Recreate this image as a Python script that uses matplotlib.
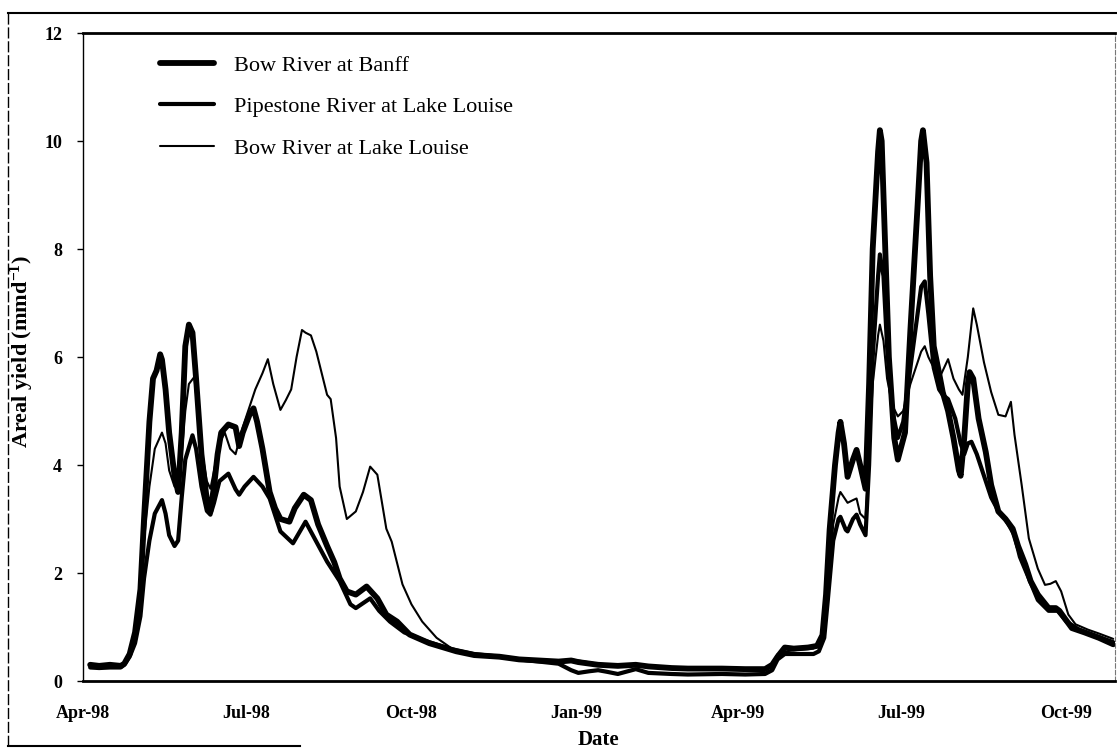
import matplotlib
matplotlib.use("Agg")
import matplotlib.pyplot as plt
from matplotlib.lines import Line2D
import pandas as pd

# ---- Bow River at Banff ----
banff_dates = [
    "1998-04-05", "1998-04-10", "1998-04-16", "1998-04-22", "1998-04-24", "1998-04-27",
    "1998-04-30", "1998-05-03", "1998-05-05", "1998-05-08", "1998-05-10", "1998-05-12",
    "1998-05-14", "1998-05-15", "1998-05-17", "1998-05-19", "1998-05-22", "1998-05-24",
    "1998-05-26", "1998-05-28", "1998-05-30", "1998-06-01", "1998-06-03", "1998-06-06",
    "1998-06-09", "1998-06-11", "1998-06-13", "1998-06-15", "1998-06-17", "1998-06-21",
    "1998-06-25", "1998-06-27", "1998-06-29", "1998-07-03", "1998-07-05", "1998-07-07",
    "1998-07-10", "1998-07-14", "1998-07-17", "1998-07-20", "1998-07-25", "1998-07-28",
    "1998-08-02", "1998-08-06", "1998-08-10", "1998-08-15", "1998-08-19", "1998-08-22",
    "1998-08-26", "1998-08-31", "1998-09-06", "1998-09-12", "1998-09-17", "1998-09-23",
    "1998-09-30", "1998-10-11", "1998-10-26", "1998-11-05", "1998-11-19", "1998-11-30",
    "1998-12-11", "1998-12-22", "1998-12-29", "1999-01-02", "1999-01-13", "1999-01-24",
    "1999-02-03", "1999-02-10", "1999-02-23", "1999-03-04", "1999-03-23", "1999-04-05",
    "1999-04-16", "1999-04-20", "1999-04-23", "1999-04-27", "1999-05-02", "1999-05-10",
    "1999-05-15", "1999-05-18", "1999-05-20", "1999-05-22", "1999-05-25", "1999-05-27",
    "1999-05-28", "1999-05-30", "1999-06-01", "1999-06-04", "1999-06-06", "1999-06-08",
    "1999-06-11", "1999-06-13", "1999-06-15", "1999-06-18", "1999-06-19", "1999-06-20",
    "1999-06-22", "1999-06-24", "1999-06-27", "1999-06-29", "1999-07-03", "1999-07-06",
    "1999-07-10", "1999-07-12", "1999-07-13", "1999-07-15", "1999-07-17", "1999-07-19",
    "1999-07-22", "1999-07-24", "1999-07-27", "1999-07-30", "1999-08-02", "1999-08-03",
    "1999-08-05", "1999-08-07", "1999-08-08", "1999-08-10", "1999-08-13", "1999-08-17",
    "1999-08-20", "1999-08-24", "1999-08-28", "1999-09-01", "1999-09-04", "1999-09-08",
    "1999-09-11", "1999-09-15", "1999-09-21", "1999-09-25", "1999-09-27", "1999-09-30",
    "1999-10-04", "1999-10-11", "1999-10-19", "1999-10-27",
]
banff_yield = [
    0.30, 0.28, 0.30, 0.28, 0.32, 0.50,
    0.90, 1.70, 3.00, 4.80, 5.60, 5.75,
    6.05, 5.95, 5.40, 4.60, 3.80, 3.50,
    4.60, 6.20, 6.60, 6.45, 5.60, 4.20,
    3.35, 3.15, 3.60, 4.20, 4.60, 4.75,
    4.70, 4.35, 4.60, 4.95, 5.05, 4.80,
    4.30, 3.50, 3.20, 3.00, 2.95, 3.20,
    3.45, 3.35, 2.90, 2.50, 2.20, 1.90,
    1.66, 1.60, 1.75, 1.53, 1.23, 1.10,
    0.86, 0.70, 0.55, 0.48, 0.45, 0.40,
    0.38, 0.36, 0.38, 0.35, 0.30, 0.28,
    0.30, 0.27, 0.24, 0.23, 0.23, 0.22,
    0.22, 0.30, 0.45, 0.62, 0.60, 0.62,
    0.65, 0.85, 1.60, 2.80, 4.00, 4.60,
    4.80, 4.40, 3.78, 4.10, 4.28, 4.00,
    3.56, 5.50, 8.00, 9.80, 10.20, 10.00,
    8.00, 6.00, 4.50, 4.10, 4.60, 6.50,
    8.80, 10.00, 10.20, 9.60, 7.50, 6.20,
    5.70, 5.35, 5.00, 4.50, 3.90, 3.80,
    4.50, 5.50, 5.72, 5.60, 4.86, 4.24,
    3.63, 3.14, 3.00, 2.82, 2.50, 2.16,
    1.85, 1.60, 1.35, 1.35, 1.30, 1.16,
    0.98, 0.90, 0.80, 0.68,
]

# ---- Pipestone River at Lake Louise ----
pipestone_dates = [
    "1998-04-05", "1998-04-10", "1998-04-16", "1998-04-22", "1998-04-24", "1998-04-27",
    "1998-04-30", "1998-05-03", "1998-05-05", "1998-05-08", "1998-05-11", "1998-05-15",
    "1998-05-17", "1998-05-19", "1998-05-22", "1998-05-24", "1998-05-26", "1998-05-28",
    "1998-06-01", "1998-06-03", "1998-06-06", "1998-06-09", "1998-06-11", "1998-06-13",
    "1998-06-16", "1998-06-21", "1998-06-25", "1998-06-27", "1998-06-30", "1998-07-05",
    "1998-07-10", "1998-07-14", "1998-07-20", "1998-07-27", "1998-08-03", "1998-08-09",
    "1998-08-15", "1998-08-22", "1998-08-28", "1998-08-31", "1998-09-08", "1998-09-13",
    "1998-09-19", "1998-09-27", "1998-10-08", "1998-10-22", "1998-11-05", "1998-11-19",
    "1998-11-30", "1998-12-11", "1998-12-22", "1998-12-29", "1999-01-02", "1999-01-08",
    "1999-01-13", "1999-01-18", "1999-01-24", "1999-02-03", "1999-02-10", "1999-02-23",
    "1999-03-04", "1999-03-23", "1999-04-05", "1999-04-16", "1999-04-20", "1999-04-23",
    "1999-04-27", "1999-05-05", "1999-05-13", "1999-05-16", "1999-05-19", "1999-05-21",
    "1999-05-24", "1999-05-27", "1999-05-28", "1999-05-31", "1999-06-01", "1999-06-04",
    "1999-06-06", "1999-06-08", "1999-06-11", "1999-06-13", "1999-06-15", "1999-06-18",
    "1999-06-19", "1999-06-21", "1999-06-23", "1999-06-26", "1999-06-29", "1999-07-02",
    "1999-07-06", "1999-07-10", "1999-07-12", "1999-07-14", "1999-07-16", "1999-07-19",
    "1999-07-22", "1999-07-24", "1999-07-27", "1999-07-31", "1999-08-03", "1999-08-05",
    "1999-08-07", "1999-08-09", "1999-08-12", "1999-08-16", "1999-08-20", "1999-08-24",
    "1999-08-28", "1999-09-02", "1999-09-05", "1999-09-10", "1999-09-15", "1999-09-21",
    "1999-09-26", "1999-10-01", "1999-10-08", "1999-10-16", "1999-10-27",
]
pipestone_yield = [
    0.25, 0.24, 0.25, 0.25, 0.30, 0.45,
    0.70, 1.20, 1.90, 2.60, 3.10, 3.35,
    3.10, 2.70, 2.50, 2.60, 3.40, 4.10,
    4.55, 4.30, 3.60, 3.15, 3.08, 3.30,
    3.70, 3.84, 3.55, 3.45, 3.60, 3.78,
    3.60, 3.38, 2.77, 2.55, 2.95, 2.58,
    2.21, 1.85, 1.42, 1.35, 1.53, 1.30,
    1.10, 0.90, 0.75, 0.60, 0.50, 0.45,
    0.40, 0.36, 0.32, 0.20, 0.15, 0.18,
    0.20, 0.17, 0.13, 0.22, 0.15, 0.13,
    0.12, 0.13, 0.12, 0.13, 0.20, 0.40,
    0.50, 0.50, 0.50, 0.55, 0.80, 1.50,
    2.60, 3.00, 3.04, 2.80, 2.77, 3.00,
    3.08, 2.90, 2.70, 4.00, 6.00, 7.50,
    7.90, 7.50, 6.20, 5.00, 4.50, 4.80,
    5.80, 6.80, 7.30, 7.40, 6.80, 5.80,
    5.40, 5.30, 5.22, 4.86, 4.40, 4.20,
    4.40, 4.43, 4.20, 3.80, 3.40, 3.15,
    3.00, 2.70, 2.30, 1.90, 1.50, 1.30,
    1.30, 1.10, 0.95, 0.85, 0.72,
]

# ---- Bow River at Lake Louise ----
louise_dates = [
    "1998-04-05", "1998-04-10", "1998-04-16", "1998-04-22", "1998-04-24", "1998-04-27",
    "1998-04-30", "1998-05-03", "1998-05-05", "1998-05-08", "1998-05-11", "1998-05-15",
    "1998-05-17", "1998-05-19", "1998-05-22", "1998-05-24", "1998-05-26", "1998-05-28",
    "1998-05-30", "1998-06-02", "1998-06-04", "1998-06-06", "1998-06-09", "1998-06-11",
    "1998-06-13", "1998-06-16", "1998-06-19", "1998-06-22", "1998-06-25", "1998-06-29",
    "1998-07-03", "1998-07-06", "1998-07-10", "1998-07-13", "1998-07-16", "1998-07-20",
    "1998-07-23", "1998-07-26", "1998-07-29", "1998-08-01", "1998-08-03", "1998-08-06",
    "1998-08-09", "1998-08-15", "1998-08-17", "1998-08-20", "1998-08-22", "1998-08-26",
    "1998-08-31", "1998-09-04", "1998-09-08", "1998-09-12", "1998-09-17", "1998-09-20",
    "1998-09-26", "1998-10-01", "1998-10-07", "1998-10-15", "1998-10-24", "1998-11-02",
    "1998-11-19", "1998-11-30", "1998-12-11", "1998-12-22", "1998-12-29", "1999-01-02",
    "1999-01-13", "1999-01-24", "1999-02-03", "1999-02-10", "1999-02-23", "1999-03-04",
    "1999-03-23", "1999-04-05", "1999-04-16", "1999-04-20", "1999-04-23", "1999-04-28",
    "1999-05-05", "1999-05-13", "1999-05-18", "1999-05-21", "1999-05-24", "1999-05-27",
    "1999-05-28", "1999-05-31", "1999-06-01", "1999-06-04", "1999-06-06", "1999-06-08",
    "1999-06-11", "1999-06-13", "1999-06-15", "1999-06-18", "1999-06-19", "1999-06-21",
    "1999-06-23", "1999-06-26", "1999-06-29", "1999-07-02", "1999-07-06", "1999-07-10",
    "1999-07-12", "1999-07-14", "1999-07-16", "1999-07-19", "1999-07-22", "1999-07-27",
    "1999-07-30", "1999-08-02", "1999-08-04", "1999-08-07", "1999-08-10", "1999-08-12",
    "1999-08-16", "1999-08-20", "1999-08-24", "1999-08-28", "1999-08-31", "1999-09-02",
    "1999-09-06", "1999-09-10", "1999-09-15", "1999-09-19", "1999-09-22", "1999-09-25",
    "1999-09-28", "1999-10-02", "1999-10-06", "1999-10-13", "1999-10-19", "1999-10-27",
]
louise_yield = [
    0.28, 0.26, 0.27, 0.27, 0.30, 0.45,
    0.80, 1.50, 2.60, 3.60, 4.30, 4.60,
    4.40, 3.90, 3.60, 3.56, 4.20, 5.00,
    5.50, 5.63, 5.00, 4.30, 3.70, 3.56,
    3.90, 4.40, 4.60, 4.30, 4.20, 4.70,
    5.10, 5.40, 5.70, 5.96, 5.50, 5.02,
    5.20, 5.40, 6.00, 6.50, 6.45, 6.40,
    6.10, 5.30, 5.22, 4.50, 3.60, 3.00,
    3.14, 3.50, 3.97, 3.82, 2.82, 2.58,
    1.79, 1.42, 1.10, 0.80, 0.59, 0.50,
    0.45, 0.40, 0.37, 0.36, 0.40, 0.38,
    0.32, 0.30, 0.31, 0.28, 0.25, 0.25,
    0.24, 0.23, 0.22, 0.32, 0.50, 0.55,
    0.58, 0.60, 0.75, 1.60, 2.90, 3.40,
    3.50, 3.35, 3.30, 3.35, 3.38, 3.10,
    3.00, 4.20, 5.50, 6.40, 6.60, 6.30,
    5.60, 5.10, 4.90, 5.00, 5.50, 5.90,
    6.10, 6.20, 6.00, 5.80, 5.60, 5.96,
    5.60, 5.40, 5.30, 6.00, 6.90, 6.60,
    5.90, 5.35, 4.93, 4.90, 5.17, 4.56,
    3.63, 2.64, 2.08, 1.78, 1.80, 1.85,
    1.66, 1.23, 1.05, 0.95, 0.88, 0.78,
]

series_names = ["Bow River at Banff", "Pipestone River at Lake Louise",
                "Bow River at Lake Louise"]
tick_dates = ["1998-04-01", "1998-07-01", "1998-10-01", "1999-01-01",
              "1999-04-01", "1999-07-01", "1999-10-01"]
tick_labels = ["Apr-98", "Jul-98", "Oct-98", "Jan-99", "Apr-99", "Jul-99", "Oct-99"]
y_ticks = [0, 2, 4, 6, 8, 10, 12]

plt.rcParams["font.family"] = ["Liberation Serif", "DejaVu Serif"]
plt.rcParams["mathtext.fontset"] = "custom"
plt.rcParams["mathtext.rm"] = "Liberation Serif:bold"
plt.rcParams["mathtext.default"] = "rm"

W, H = 1117, 753
fig = plt.figure(figsize=(W / 100, H / 100), dpi=100)
ax = fig.add_axes([83 / W, 1 - 681 / H, (1115 - 83) / W, (681 - 33) / H])

series = [
    (banff_dates, banff_yield, 4.2),
    (pipestone_dates, pipestone_yield, 3.0),
    (louise_dates, louise_yield, 1.5),
]
for (d, v, lw), name in zip(series, series_names):
    ax.plot(pd.to_datetime(d), v, color="black", lw=lw, label=name,
            solid_joinstyle="round", solid_capstyle="round")

ax.set_xlim(pd.Timestamp("1998-04-01"), pd.Timestamp("1999-10-28"))
ax.set_ylim(0, 12)
ax.set_yticks(y_ticks)
ax.set_yticklabels([str(t) for t in y_ticks], fontsize=13, fontweight="bold")
ax.set_xticks(pd.to_datetime(tick_dates))
ax.set_xticklabels(tick_labels, fontsize=13, fontweight="bold")
ax.tick_params(axis="y", direction="out", length=4, width=1, pad=11)
ax.tick_params(axis="x", length=0, pad=17)

ax.spines["left"].set_linewidth(1.0)
ax.spines["bottom"].set_linewidth(2.0)
ax.spines["top"].set_linewidth(2.0)
ax.spines["right"].set_linewidth(0.8)
ax.spines["right"].set_color("#777777")
ax.spines["right"].set_linestyle((0, (4, 2)))

leg = ax.legend(loc="upper left", bbox_to_anchor=(160 / W, 1 - 55 / H),
                bbox_transform=fig.transFigure, frameon=False, fontsize=16,
                handlelength=2.45, handletextpad=0.9, labelspacing=0.95,
                borderpad=0, borderaxespad=0)

fig.text(598 / W, 1 - 740 / H, "Date", ha="center", va="center",
         fontsize=15, fontweight="bold")
fig.text(22 / W, 1 - 352 / H, r"Areal yield (mmd$^{-1}$)", rotation=90,
         ha="center", va="center", fontsize=16, fontweight="bold")

# page frame around the figure
fig.add_artist(Line2D([8 / W, 1], [1 - 13 / H, 1 - 13 / H],
                      transform=fig.transFigure, color="black", lw=1.5))
fig.add_artist(Line2D([8 / W, 8 / W], [1 - 13 / H, 1 - 747 / H],
                      transform=fig.transFigure, color="black", lw=1.0,
                      linestyle=(0, (8, 2))))
fig.add_artist(Line2D([8 / W, 300 / W], [1 - 746 / H, 1 - 746 / H],
                      transform=fig.transFigure, color="black", lw=1.5))

fig.savefig("out.png", dpi=100, facecolor="white")
